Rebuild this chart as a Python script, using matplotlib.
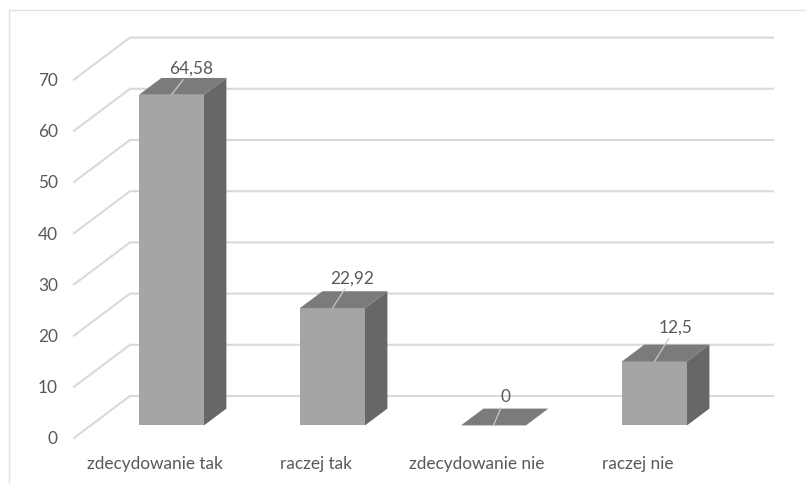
import matplotlib
matplotlib.use('Agg')
import matplotlib.pyplot as plt
from matplotlib.patches import Polygon

categories = ['zdecydowanie tak', 'raczej tak', 'zdecydowanie nie', 'raczej nie']
values = [64.58, 22.92, 0, 12.5]
value_labels = ['64,58', '22,92', '0', '12,5']
y_ticks = [0, 10, 20, 30, 40, 50, 60, 70]

# where each value label sits relative to the middle of the bar's back edge, in pixels
label_shift_x = [-2.5, -3, -10.5, -1.5]
label_shift_y = [10.5, 14.5, 13, 18]

# fake 3D: a point at depth d (0 front, 1 back) is sheared up and to the right
PX_X = 161
PX_Y = 5.12
DEPTH_X = 56 / PX_X
DEPTH_Y = 42 / PX_Y
BAR_W = 65 / PX_X
BAR_D0 = 0.3
BAR_D1 = 0.7
TEXT_COLOR = '#595959'


def project(x, v, d):
    return x + d * DEPTH_X, v + d * DEPTH_Y


plt.rcParams['font.family'] = ['Lato', 'DejaVu Sans']
fig = plt.figure(figsize=(8.06, 4.84), dpi=100)
ax = fig.add_axes([0, 0, 1, 1])
ax.set_xlim(-154.7 / PX_X, (806 - 154.7) / PX_X)
ax.set_ylim(-46 / PX_Y, 438 / PX_Y)
ax.axis('off')

# outer chart frame, only the left and top edges are in view
ax.plot([8.5 / 806, 8.5 / 806, 1], [0, 1 - 9.5 / 484, 1 - 9.5 / 484],
        transform=ax.transAxes, color='#e2e2e2', lw=1.0, clip_on=False)

# wall and floor gridlines
x_start = (74 - 154.7) / PX_X
x_end = (773 - 56 - 154.7) / PX_X
for t in y_ticks:
    x0, y0 = project(x_start, t, 0)
    x1, y1 = project(x_start, t, 1)
    x2, y2 = project(x_end, t, 1)
    ax.plot([x0, x1, x2], [y0, y1, y2], color='#d9d9d9', lw=1.5, zorder=1,
            solid_joinstyle='miter')
    ax.text(x_start - 16 / PX_X, t, str(t), ha='right', va='center_baseline', fontsize=12.4,
            color=TEXT_COLOR)

for i, v in enumerate(values):
    left = i - BAR_W / 2 + BAR_D0 * DEPTH_X
    right = left + BAR_W
    back = (BAR_D1 - BAR_D0) * DEPTH_X
    base = BAR_D0 * DEPTH_Y
    rise = (BAR_D1 - BAR_D0) * DEPTH_Y
    top = base + v

    front = [(left, base), (right, base), (right, top), (left, top)]
    side = [(right, base), (right + back, base + rise), (right + back, top + rise), (right, top)]
    lid = [(left, top), (right, top), (right + back, top + rise), (left + back, top + rise)]
    ax.add_patch(Polygon(front, closed=True, fc='#a5a5a5', ec='none', zorder=3))
    ax.add_patch(Polygon(side, closed=True, fc='#676767', ec='none', zorder=3))
    ax.add_patch(Polygon(lid, closed=True, fc='#7b7b7b', ec='none', zorder=3))

    # value label with a thin leader going back over the top of the bar
    mid = left + BAR_W / 2
    label_x = mid + back + label_shift_x[i] / PX_X
    label_y = top + rise + label_shift_y[i] / PX_Y
    ax.annotate(value_labels[i], xy=(mid, top), xycoords='data',
                xytext=(label_x, label_y), textcoords='data',
                ha='center', va='center_baseline', fontsize=12.4, color=TEXT_COLOR, zorder=5,
                arrowprops=dict(arrowstyle='-', color='#c8c8c8', lw=0.9, shrinkA=0, shrinkB=0))

    ax.text(i, -24.7 / PX_Y, categories[i], ha='center', va='center_baseline', fontsize=12.4,
            color=TEXT_COLOR)

fig.savefig('out.png', dpi=100, facecolor='white')
